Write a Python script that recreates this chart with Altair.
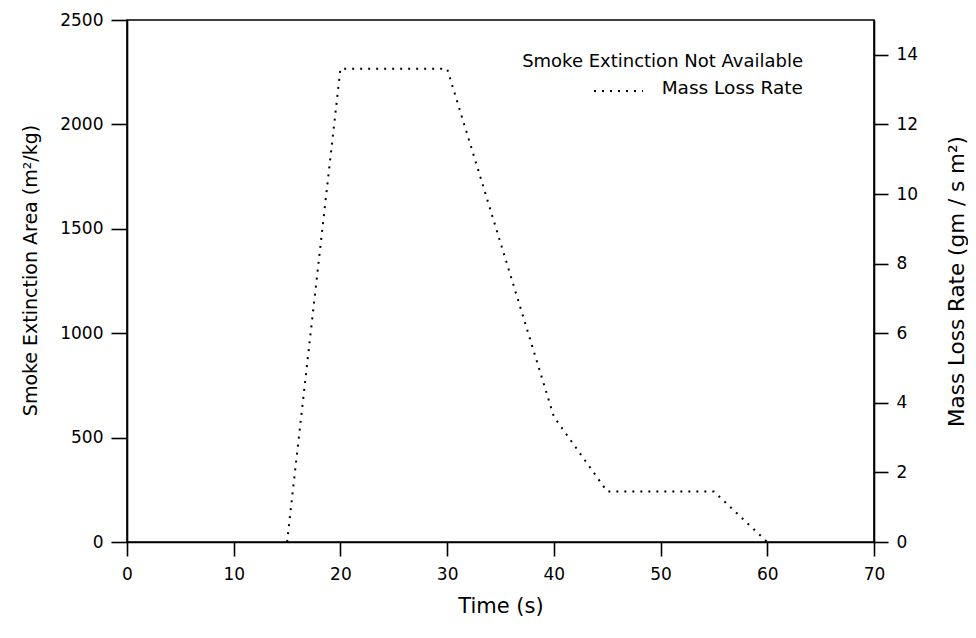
import altair as alt
import pandas as pd

# ---- data ----
time_s = [15, 20, 30, 40, 45, 55, 60]
mass_loss_rate = [0, 13.6, 13.6, 3.6, 1.45, 1.45, 0]
smoke_axis_range = [0, 2500]
time_range = [0, 70]
mlr_range = [0, 15]
x_ticks = [0, 10, 20, 30, 40, 50, 60, 70]
left_ticks = [0, 500, 1000, 1500, 2000, 2500]
right_ticks = [0, 2, 4, 6, 8, 10, 12, 14]
legend_title = ["Smoke Extinction Not Available"]
legend_label = ["Mass Loss Rate"]

FONT = "DejaVu Sans"

df = pd.DataFrame({"Time": time_s, "MLR": mass_loss_rate})
left_df = pd.DataFrame({"Time": time_range, "Smoke": smoke_axis_range})

x_enc = alt.X(
    "Time:Q",
    scale=alt.Scale(domain=time_range, nice=False, zero=False),
    axis=alt.Axis(title="Time (s)", values=x_ticks, tickSize=14, labelPadding=10,
                  titlePadding=13, titleFontSize=21, labelFlush=False, labelOverlap=False),
)

left = alt.Chart(left_df).mark_point(opacity=0).encode(
    x=x_enc,
    y=alt.Y(
        "Smoke:Q",
        scale=alt.Scale(domain=smoke_axis_range, nice=False),
        axis=alt.Axis(title="Smoke Extinction Area (m²/kg)", orient="left", values=left_ticks,
                      format="d", tickSize=16, labelPadding=8, titlePadding=19,
                      titleFontSize=19, titleY=250, labelFlush=False, labelOverlap=False),
    ),
)

line = alt.Chart(df).mark_line(color="black", strokeDash=[2, 6], strokeWidth=2).encode(
    x=x_enc,
    y=alt.Y(
        "MLR:Q",
        scale=alt.Scale(domain=mlr_range, nice=False),
        axis=alt.Axis(title="Mass Loss Rate (gm / s m²)", orient="right", values=right_ticks,
                      tickSize=14, labelPadding=8, titlePadding=51, titleAngle=270,
                      titleFontSize=21.5, labelFlush=False, labelOverlap=False),
    ),
)

leg1 = alt.Chart(pd.DataFrame({"label": legend_title})).mark_text(
    align="right", baseline="middle", font=FONT, fontSize=18, color="black"
).encode(x=alt.value(676), y=alt.value(42), text="label:N")

leg2 = alt.Chart(pd.DataFrame({"label": legend_label})).mark_text(
    align="right", baseline="middle", font=FONT, fontSize=18.5, color="black"
).encode(x=alt.value(676), y=alt.value(68), text="label:N")

leg_rule = alt.Chart(pd.DataFrame({"label": legend_label})).mark_rule(
    color="black", strokeDash=[2, 6], strokeWidth=2
).encode(x=alt.value(467), x2=alt.value(516), y=alt.value(71))

chart = (
    alt.layer(left, line, leg1, leg2, leg_rule)
    .resolve_scale(y="independent")
    .properties(
        width=747,
        height=522,
        autosize=alt.AutoSizeParams(type="none"),
        padding={"left": 119, "top": 12, "right": 94, "bottom": 80},
        background="white",
    )
    .configure_axis(
        grid=False,
        domainColor="black",
        domainWidth=1.6,
        tickColor="black",
        tickWidth=1.6,
        labelFont=FONT,
        labelFontSize=17,
        labelColor="black",
        titleFont=FONT,
        titleFontSize=20,
        titleFontWeight="normal",
        titleColor="black",
    )
    .configure_view(stroke="black", strokeWidth=1.6)
)

chart.save("out.html", embed_options={"renderer": "svg", "actions": False})
